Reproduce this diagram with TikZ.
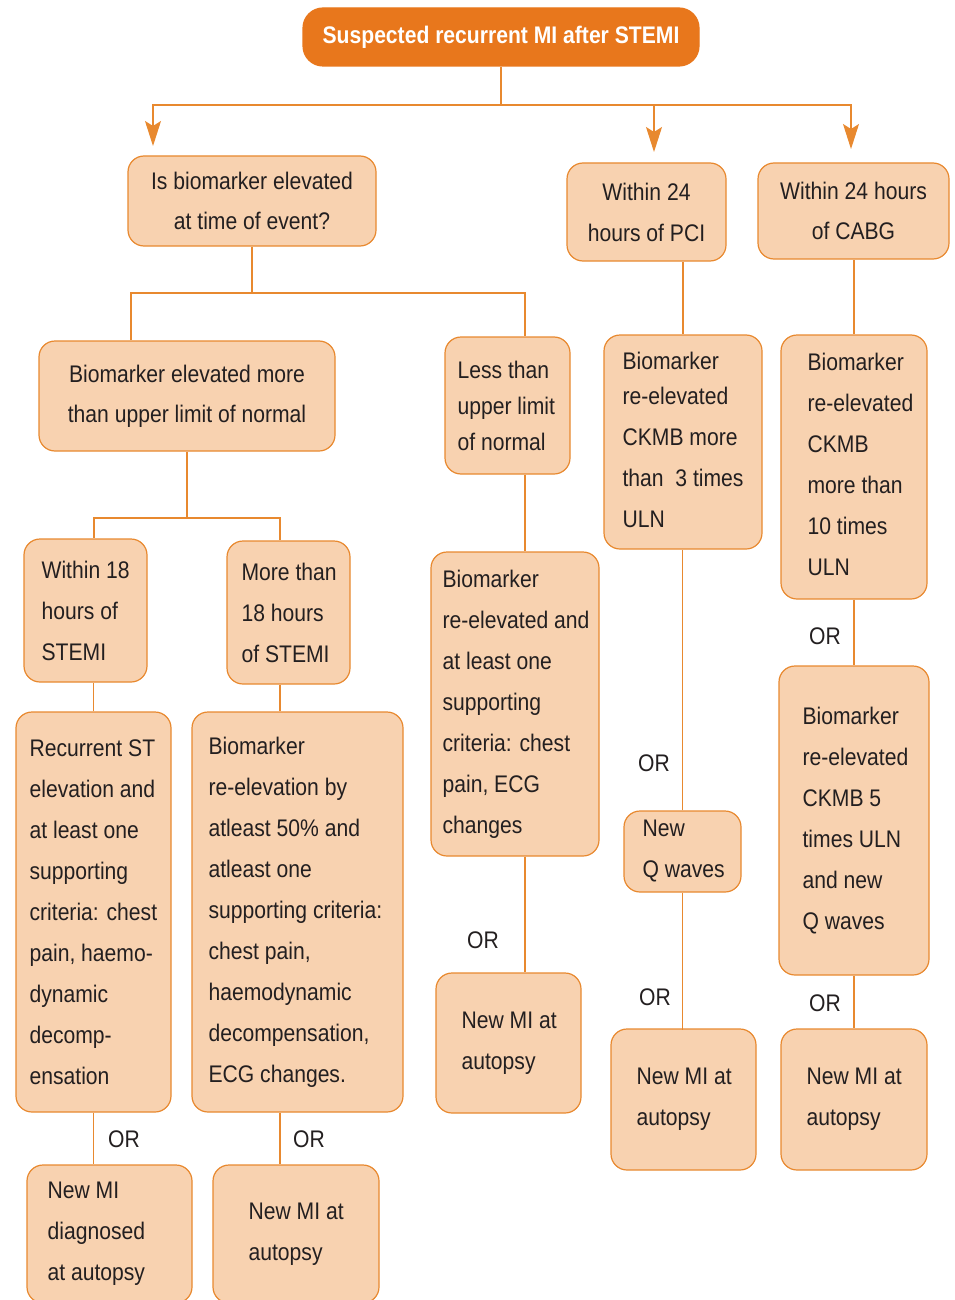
\documentclass[tikz,border=0pt]{standalone}
\usepackage{fontspec}
\setmainfont[FakeStretch=0.88]{Liberation Sans}
\usetikzlibrary{arrows.meta}

\definecolor{miorange}{HTML}{E8771C}
\definecolor{miline}{HTML}{E8892F}
\definecolor{mipeach}{HTML}{F8D2B0}
\definecolor{mitext}{HTML}{231F20}

\tikzset{
  box/.style={rectangle, rounded corners=16pt, draw=miline, line width=1.2pt, fill=mipeach, inner sep=0pt},
  ctrbox/.style={box, align=center, text=mitext, font=\fontsize{24}{40}\selectfont},
  txt/.style={anchor=west, inner sep=0pt, align=left, text=mitext, font=\fontsize{24}{41}\selectfont},
  ortxt/.style={inner sep=0pt, text=mitext, font=\fontsize{24}{29}\selectfont},
  link/.style={draw=miline, line width=1.2pt},
  arr/.style={link, -{Stealth[length=25pt, width=16pt, inset=5pt]}},
}

\begin{document}
\begin{tikzpicture}[x=1pt, y=-1pt]
        \useasboundingbox (0,0) rectangle (954,1300);
        \clip (0,0) rectangle (954,1300);

        % Title
        \node[box, rounded corners=20pt, fill=miorange, draw=miorange, minimum width=396, minimum height=58,
              text=white, font=\bfseries\fontsize{24}{29}\selectfont] (T) at (501,37) {Suspected recurrent MI after STEMI};

        % First level
        \node[ctrbox, minimum width=248, minimum height=90] (A) at (252,201) {Is biomarker elevated\\at time of event?};
        \node[ctrbox, minimum width=159, minimum height=98, font=\fontsize{24}{41}\selectfont] (B) at (646.5,212) {Within 24\\hours of PCI};
        \node[ctrbox, minimum width=191, minimum height=96] (C) at (853.5,211) {Within 24 hours\\of CABG};

        % Second level
        \node[ctrbox, minimum width=296, minimum height=110] (D) at (187,396) {Biomarker elevated more\\than upper limit of normal};
        \node[box, minimum width=125, minimum height=137] (E) at (507.5,405.5) {};
        \node[txt, font=\fontsize{24}{36}\selectfont] (Et) at ([xshift=13]E.west) {Less than\\upper limit\\of normal};
        \node[box, minimum width=158, minimum height=214] (F) at (683,442) {};
        \node[txt] (Ft) at ([xshift=19,yshift=2]F.west) {Biomarker\\[-6pt]re-elevated\\CKMB more\\than\ \ 3 times\\ULN};
        \node[box, minimum width=146, minimum height=264] (G) at (854,467) {};
        \node[txt] (Gt) at ([xshift=27,yshift=3]G.west) {Biomarker\\re-elevated\\CKMB\\more than\\10 times\\ULN};

        % Third level
        \node[box, minimum width=123, minimum height=143] (H) at (85.5,610.5) {};
        \node[txt] (Ht) at ([xshift=18]H.west) {Within 18\\hours of\\STEMI};
        \node[box, minimum width=123, minimum height=143] (I) at (288.5,612.5) {};
        \node[txt] (It) at ([xshift=15]I.west) {More than\\18 hours\\of STEMI};
        \node[box, minimum width=168, minimum height=304] (L) at (515,704) {};
        \node[txt] (Lt) at ([xshift=12]L.west) {Biomarker\\re-elevated and\\at least one\\supporting\\criteria: chest\\pain, ECG\\changes};
        \node[box, minimum width=117, minimum height=81] (M) at (682.5,851.5) {};
        \node[txt] (Mt) at ([xshift=19]M.west) {New\\Q waves};
        \node[box, minimum width=150, minimum height=309] (O) at (854,820.5) {};
        \node[txt] (Ot) at ([xshift=24]O.west) {Biomarker\\re-elevated\\CKMB 5\\times ULN\\and new\\Q waves};

        % Criteria
        \node[box, minimum width=155, minimum height=400] (J) at (93.5,912) {};
        \node[txt] (Jt) at ([xshift=14]J.west) {Recurrent ST\\elevation and\\at least one\\supporting\\criteria: chest\\pain, haemo-\\dynamic\\decomp-\\ensation};
        \node[box, minimum width=211, minimum height=400] (K) at (297.5,912) {};
        \node[txt] (Kt) at ([xshift=17]K.west) {Biomarker\\re-elevation by\\atleast 50\% and\\atleast one\\supporting criteria:\\chest pain,\\haemodynamic\\decompensation,\\ECG changes.};

        % Autopsy
        \node[box, minimum width=145, minimum height=140] (Q) at (508.5,1043) {};
        \node[txt] (Qt) at ([xshift=26]Q.west) {New MI at\\autopsy};
        \node[box, minimum width=145, minimum height=141] (N) at (683.5,1099.5) {};
        \node[txt] (Nt) at ([xshift=26]N.west) {New MI at\\autopsy};
        \node[box, minimum width=146, minimum height=141] (P) at (854,1099.5) {};
        \node[txt] (Pt) at ([xshift=26]P.west) {New MI at\\autopsy};
        \node[box, minimum width=165, minimum height=138] (R) at (109.5,1234) {};
        \node[txt] (Rt) at ([xshift=21]R.west) {New MI\\diagnosed\\at autopsy};
        \node[box, minimum width=166, minimum height=138] (S) at (296,1234) {};
        \node[txt] (St) at ([xshift=36]S.west) {New MI at\\autopsy};

        % OR labels
        \node[ortxt] (or1) at (124,1139) {OR};
        \node[ortxt] (or2) at (309,1139) {OR};
        \node[ortxt] (or3) at (483,940) {OR};
        \node[ortxt] (or4) at (654,763) {OR};
        \node[ortxt] (or5) at (655,997) {OR};
        \node[ortxt] (or6) at (825,636) {OR};
        \node[ortxt] (or7) at (825,1003) {OR};

        % Arrow ends and joints
        \coordinate (jT) at (501,105);
        \coordinate (aA) at (153,146);
        \coordinate (aB) at (654,152);
        \coordinate (aC) at (851,149);
        \coordinate (jA) at (252,293);
        \coordinate (jD) at (187,518);

        % Connectors
        \draw[link] (T.south) -- (jT);
        \draw[arr] (jT) -| (aA);
        \draw[arr] (jT) -| (aB);
        \draw[arr] (jT) -| (aC);
        \draw[link] (A.south) -- (jA);
        \draw[link] (jA) -| ([xshift=-56]D.north);
        \draw[link] (jA) -| ([xshift=17.5]E.north);
        \draw[link] (F.north) -- (F.north |- B.south);
        \draw[link] (G.north) -- (G.north |- C.south);
        \draw[link] (D.south) -- (jD);
        \draw[link] (jD) -| ([xshift=8.5]H.north);
        \draw[link] (jD) -| ([xshift=-8.5]I.north);
        \draw[link] (J.north) -- (J.north |- H.south);
        \draw[link] ([xshift=-8.5]I.south) -- ([xshift=-8.5]I.south |- K.north);
        \draw[link] (J.south) -- (J.south |- R.north);
        \draw[link] ([xshift=-17.5]K.south) -- ([xshift=-17.5]K.south |- S.north);
        \draw[link] ([xshift=17.5]E.south) -- ([xshift=17.5]E.south |- L.north);
        \draw[link] ([xshift=10]L.south) -- ([xshift=10]L.south |- Q.north);
        \draw[link] (M.north) -- (M.north |- F.south);
        \draw[link] (M.south) -- ([yshift=-2]M.south |- N.north);
        \draw[link] (G.south) -- (O.north);
        \draw[link] (O.south) -- (P.north);
\end{tikzpicture}
\end{document}
